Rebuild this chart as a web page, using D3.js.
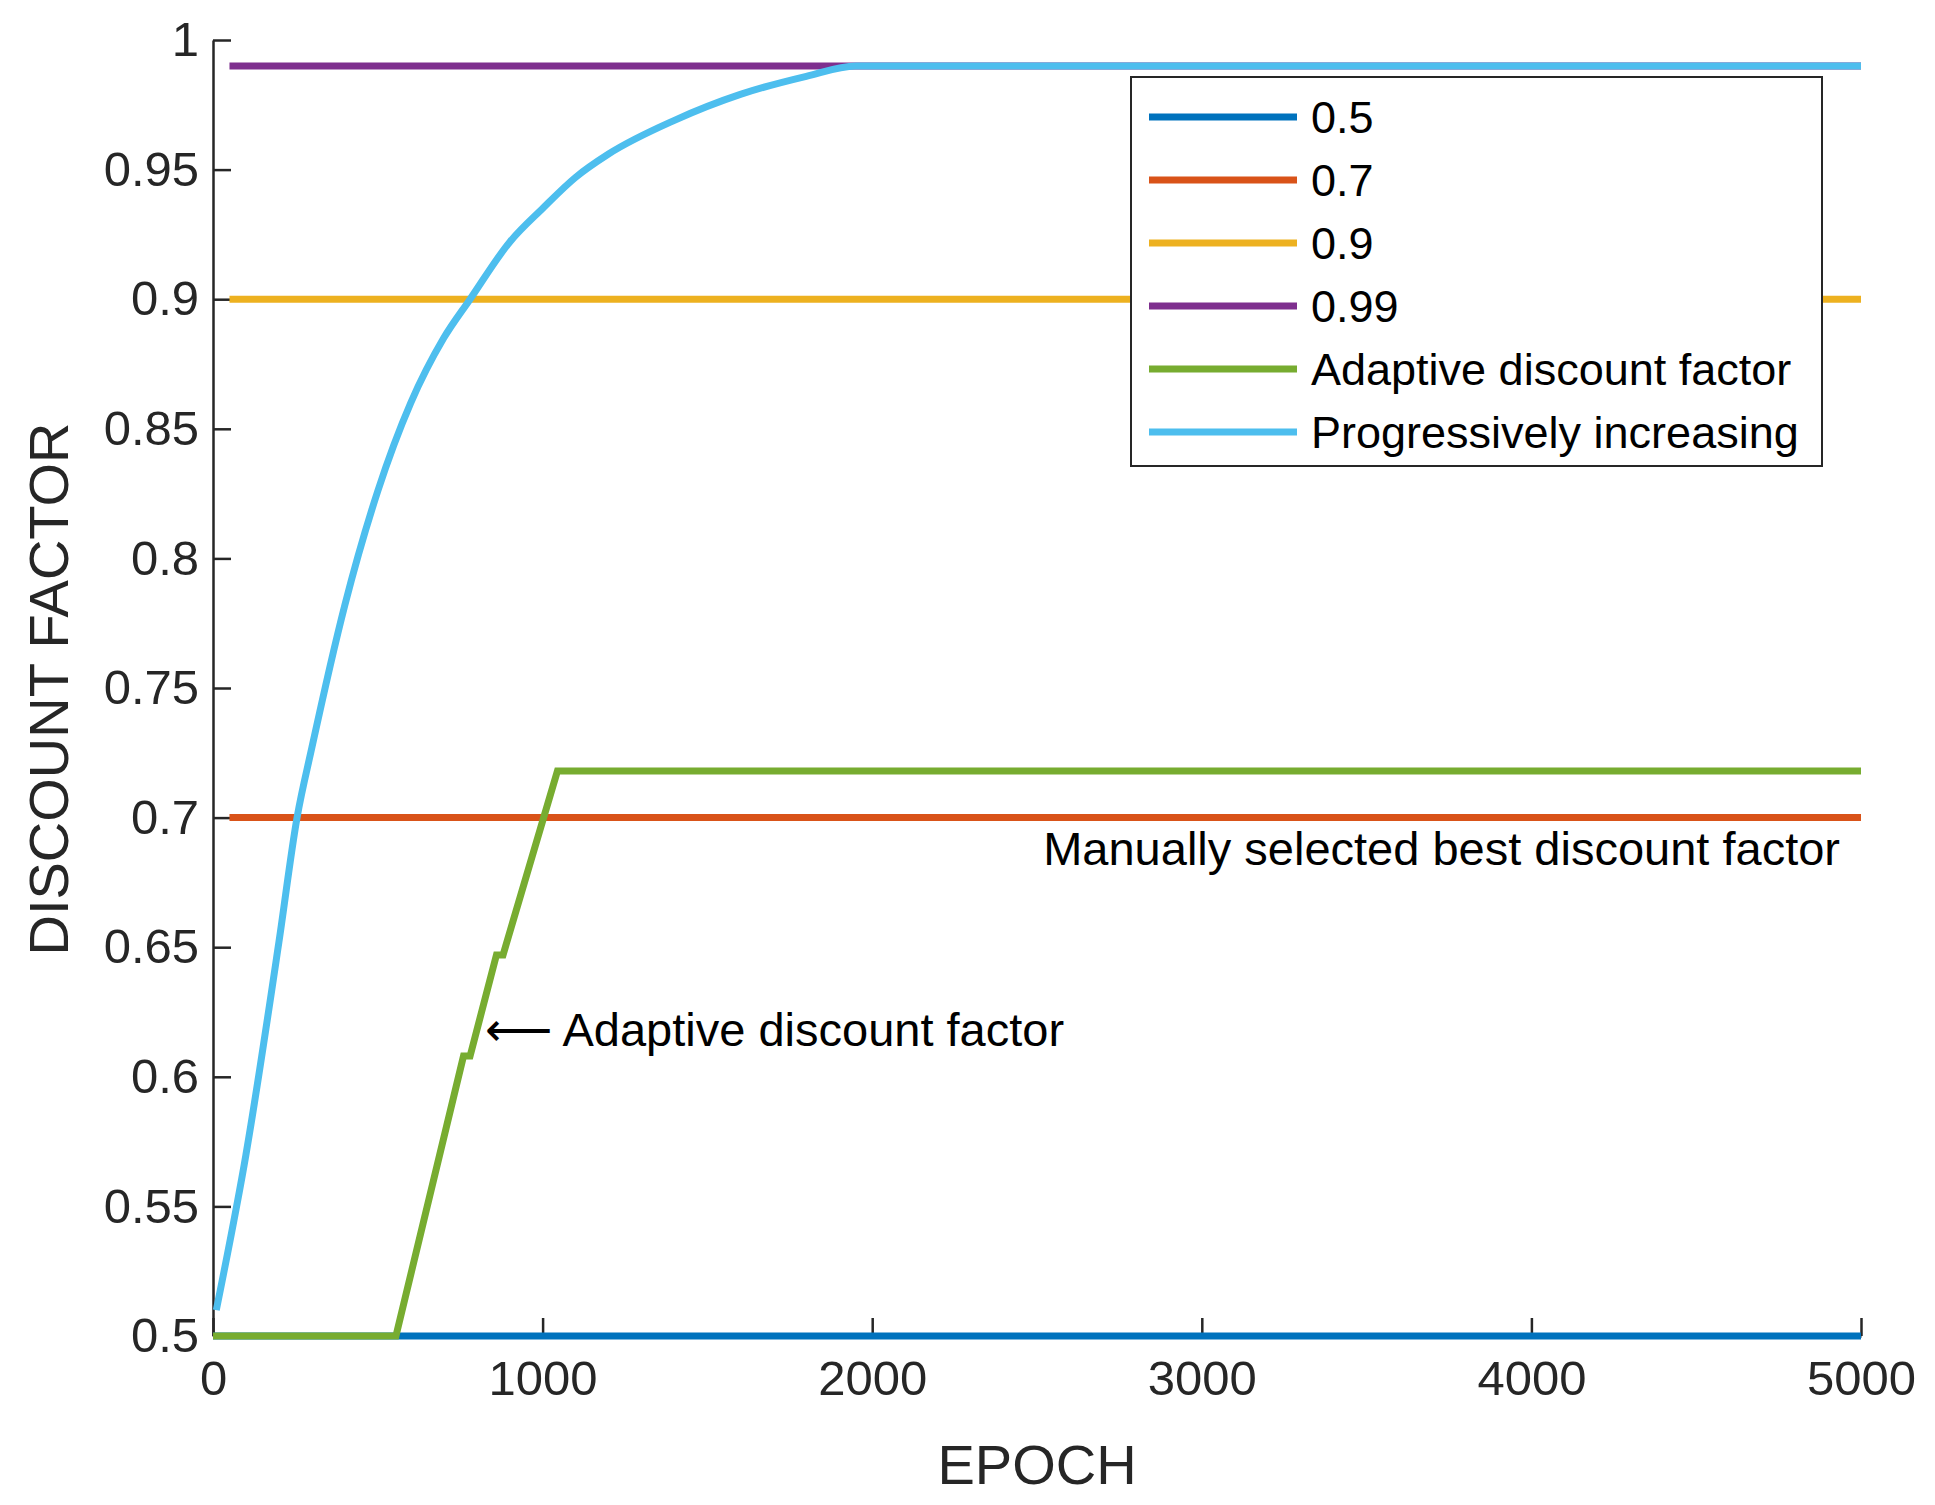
<!DOCTYPE html>
<html lang="en">
<head>
<meta charset="UTF-8">
<script src="https://cdnjs.cloudflare.com/ajax/libs/d3/7.8.5/d3.min.js"></script>
<style>body{margin:0;background:#fff}</style>
</head>
<body>
<svg width="1935" height="1505"></svg>
<script>
const xTicks = [0, 1000, 2000, 3000, 4000, 5000];
const yTicks = [0.5, 0.55, 0.6, 0.65, 0.7, 0.75, 0.8, 0.85, 0.9, 0.95, 1];
const names = ["0.5", "0.7", "0.9", "0.99", "Adaptive discount factor", "Progressively increasing"];
const colors = ["#0072BD", "#D95319", "#EDB120", "#7E2F8E", "#77AC30", "#4DBEEE"];
const constEpochs = [0, 5000];
const constValues = [0.5, 0.7, 0.9, 0.99];
const adaptEpochs = [0, 555, 760, 780, 860, 880, 1045, 5000];
const adaptValues = [0.5, 0.5, 0.608, 0.608, 0.647, 0.647, 0.718, 0.718];
const progEpochs = [10, 100, 200, 255, 300, 400, 500, 600, 700, 780, 900, 1000, 1100, 1200, 1400, 1600, 1800, 1950, 5000];
const progValues = [0.51, 0.57, 0.652, 0.70, 0.727, 0.782, 0.826, 0.86, 0.885, 0.9, 0.922, 0.935, 0.947, 0.956, 0.969, 0.979, 0.986, 0.99, 0.99];

const svg = d3.select('svg');
const x = d3.scaleLinear().domain([0, 5000]).range([213, 1861]);
const y = d3.scaleLinear().domain([0.5, 1]).range([1336, 40]);
const font = 'Arial, "Liberation Sans", sans-serif';

const series = [
    ...constValues.map(v => constEpochs.map(e => [e, v])),
    adaptEpochs.map((e, i) => [e, adaptValues[i]]),
    progEpochs.map((e, i) => [e, progValues[i]])
];
// constant lines (except 0.5) start slightly right of the axis
series.slice(0, 4).forEach((s, i) => { if (i > 0) s[0][0] = 50; });

const line = d3.line().x(d => x(d[0])).y(d => y(d[1]));
const smooth = d3.line().x(d => x(d[0])).y(d => y(d[1])).curve(d3.curveMonotoneX);

const xAxis = svg.append('g').attr('transform', 'translate(0,1336)')
    .call(d3.axisBottom(x).tickValues(xTicks).tickFormat(d3.format('d')).tickSize(-18).tickPadding(24).tickSizeOuter(0));
const yAxis = svg.append('g').attr('transform', 'translate(213,0)')
    .call(d3.axisLeft(y).tickValues(yTicks).tickFormat(d3.format('')).tickSize(-18).tickPadding(14).tickSizeOuter(0));
[xAxis, yAxis].forEach(a => {
    a.selectAll('text').attr('font-size', 49).attr('font-family', font).attr('fill', '#262626');
    a.selectAll('line,path').attr('stroke', '#262626').attr('stroke-width', 2.5);
});

series.forEach((s, i) => {
    svg.append('path').attr('d', i === 5 ? smooth(s) : line(s)).attr('fill', 'none')
        .attr('stroke', colors[i]).attr('stroke-width', 7);
});

svg.append('text').attr('x', 1037).attr('y', 1484).attr('text-anchor', 'middle')
    .attr('font-size', 56).attr('font-family', font).attr('fill', '#262626').text('EPOCH');
svg.append('text').attr('transform', 'translate(68,689) rotate(-90)').attr('text-anchor', 'middle')
    .attr('font-size', 56).attr('font-family', font).attr('fill', '#262626').text('DISCOUNT FACTOR');

svg.append('text').attr('x', 1840).attr('y', 865).attr('text-anchor', 'end')
    .attr('font-size', 47).attr('font-family', font).text('Manually selected best discount factor');
svg.append('text').attr('x', 485).attr('y', 1046)
    .attr('font-size', 47).attr('font-family', font).text('\u27F5 Adaptive discount factor');

const lg = svg.append('g');
lg.append('rect').attr('x', 1131).attr('y', 77).attr('width', 691).attr('height', 389)
    .attr('fill', '#fff').attr('stroke', '#262626').attr('stroke-width', 2);
names.forEach((n, i) => {
    const ly = 117 + i * 63;
    lg.append('line').attr('x1', 1149).attr('x2', 1297).attr('y1', ly).attr('y2', ly)
        .attr('stroke', colors[i]).attr('stroke-width', 7);
    lg.append('text').attr('x', 1311).attr('y', ly).attr('dy', '0.36em')
        .attr('font-size', 45).attr('font-family', font).attr('fill', '#000').text(n);
});
</script>
</body>
</html>
